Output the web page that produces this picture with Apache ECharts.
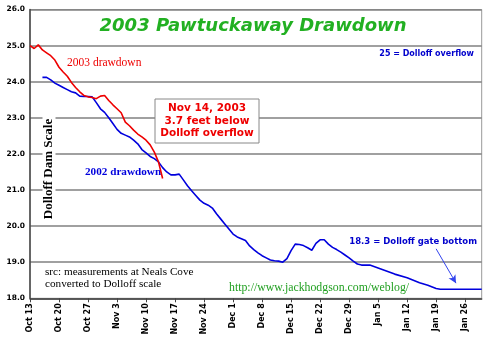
<!DOCTYPE html>
<html>
<head>
<meta charset="utf-8">
<script src="https://cdn.jsdelivr.net/npm/echarts@6/dist/echarts.min.js"></script>
<style>html,body{margin:0;padding:0;background:#fff}#c{width:500px;height:339px}</style>
</head>
<body>
<div id="c"></div>
<script>
// x = days since Oct 13
const tickLabels = ["Oct 13","Oct 20","Oct 27","Nov 3","Nov 10","Nov 17","Nov 24","Dec 1","Dec 8","Dec 15","Dec 22","Dec 29","Jan 5","Jan 12","Jan 19","Jan 26"];

const days2003 = [0,1,2,3,4,5,6,7,8,9,10,11,12,13,14,15,16,17,18,19,20,21,22,23,24,25,26,27,28,29,30,31,32];
const level2003 = [25.0,24.92,25.02,24.88,24.8,24.72,24.6,24.4,24.27,24.15,23.98,23.84,23.72,23.62,23.58,23.56,23.53,23.6,23.62,23.48,23.36,23.25,23.14,22.88,22.78,22.66,22.55,22.47,22.38,22.25,22.05,21.78,21.32];

const days2002 = [3,4,5,6,7,8,9,10,11,12,13,14,15,16,17,18,19,20,21,22,23,24,25,26,27,28,29,30,31,32,33,34,35,36,37,38,39,40,41,42,43,44,45,46,47,48,49,50,51,52,53,54,55,56,57,58,59,60,61,62,63,64,65,66,67,68,69,70,71,72,73,74,75,76,77,78,79,80,82,85,88,91,94,96,98,99,109];
const level2002 = [24.12,24.12,24.05,23.96,23.9,23.84,23.78,23.72,23.69,23.6,23.59,23.59,23.58,23.42,23.25,23.15,23.0,22.84,22.68,22.57,22.52,22.47,22.38,22.28,22.12,22.03,21.93,21.87,21.78,21.62,21.5,21.42,21.42,21.44,21.28,21.12,20.98,20.85,20.72,20.63,20.58,20.5,20.34,20.2,20.06,19.92,19.78,19.7,19.65,19.6,19.45,19.35,19.26,19.18,19.12,19.06,19.04,19.03,19.0,19.1,19.32,19.5,19.49,19.46,19.4,19.33,19.52,19.62,19.62,19.5,19.41,19.35,19.28,19.2,19.12,19.03,18.95,18.92,18.92,18.8,18.67,18.57,18.43,18.36,18.27,18.25,18.25];

const arrowFrom = [98.0, 19.37];
const arrowTo = [102.8, 18.42];

const chart = echarts.init(document.getElementById('c'), null, {renderer:'canvas'});
const sans = 'DejaVu Sans';
const zip = (a,b)=>a.map((v,i)=>[v,b[i]]);

chart.setOption({
  animation:false,
  backgroundColor:'#fff',
  grid:{left:30,right:18.3,top:9.5,bottom:40.7,show:true,borderColor:'#999',borderWidth:1},
  xAxis:{
    type:'value',min:0,max:109,interval:7,
    axisLine:{show:true,lineStyle:{color:'#444',width:1.5}},
    axisTick:{show:true,length:4,lineStyle:{color:'#444'}},
    splitLine:{show:false},
    axisLabel:{rotate:90,fontSize:8,fontWeight:'bold',fontFamily:sans,color:'#000',margin:5,showMaxLabel:false,
      formatter:v=> (v%7===0 && tickLabels[v/7]) ? tickLabels[v/7] : ''}
  },
  yAxis:{
    type:'value',min:18,max:26,interval:1,
    axisLine:{show:true,lineStyle:{color:'#444',width:1.5}},
    axisTick:{show:false},
    splitLine:{show:true,lineStyle:{color:'#808080',width:1.5}},
    axisLabel:{fontSize:7.5,fontWeight:'bold',fontFamily:sans,color:'#000',margin:5,formatter:v=>v.toFixed(1)}
  },
  series:[
    {type:'line',data:zip(days2002,level2002),showSymbol:false,lineStyle:{color:'#0000dd',width:1.6},z:3,
     markLine:{silent:true,symbol:['none','arrow'],symbolSize:[6,8],label:{show:false},
       lineStyle:{color:'#3344ee',width:1,type:'solid'},
       data:[[{coord:arrowFrom},{coord:arrowTo}]]}},
    {type:'line',data:zip(days2003,level2003),showSymbol:false,lineStyle:{color:'#ee0000',width:1.6},z:4}
  ],
  graphic:[
    {type:'text',x:253,y:26,style:{text:'2003 Pawtuckaway Drawdown',fill:'#22b022',font:'italic bold 18px "DejaVu Sans"',align:'center',verticalAlign:'middle'}},
    {type:'text',x:474,y:54,style:{text:'25 = Dolloff overflow',fill:'#0000cc',font:'bold 8px "DejaVu Sans"',align:'right',verticalAlign:'middle'}},
    {type:'text',x:67,y:63,style:{text:'2003 drawdown',fill:'#ee0000',font:'11.5px "Liberation Serif"',align:'left',verticalAlign:'middle'}},
    {type:'text',x:85,y:172,style:{text:'2002 drawdown',fill:'#0000dd',font:'bold 11.2px "Liberation Serif"',align:'left',verticalAlign:'middle'}},
    {type:'text',x:49,y:169,rotation:Math.PI/2,z:5,style:{text:'Dolloff Dam Scale',fill:'#000',font:'bold 13px "Liberation Serif"',align:'center',verticalAlign:'middle',backgroundColor:'#fff',padding:[0,4]}},
    {type:'rect',shape:{x:155,y:99,width:104,height:44},style:{fill:'#fff',stroke:'#888',lineWidth:1},z:10},
    {type:'text',x:207,y:121,z:11,style:{text:'Nov 14, 2003\n3.7 feet below\nDolloff overflow',fill:'#ee0000',font:'bold 10.5px "DejaVu Sans"',lineHeight:12.6,align:'center',verticalAlign:'middle'}},
    {type:'text',x:45,y:278,style:{text:'src: measurements at Neals Cove\nconverted to Dolloff scale',fill:'#000',font:'11.2px "Liberation Serif"',lineHeight:12.6,align:'left',verticalAlign:'middle'}},
    {type:'text',x:229,y:288,style:{text:'http://www.jackhodgson.com/weblog/',fill:'#22a022',font:'11.8px "Liberation Serif"',align:'left',verticalAlign:'middle'}},
    {type:'text',x:477,y:242,style:{text:'18.3 = Dolloff gate bottom',fill:'#0000cc',font:'bold 8.5px "DejaVu Sans"',align:'right',verticalAlign:'middle'}}
  ]
});
</script>
</body>
</html>
